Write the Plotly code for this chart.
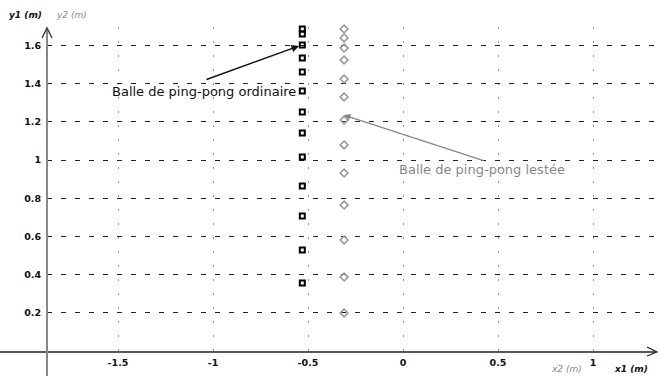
import plotly.graph_objects as go

# --- data ---
x_ordinaire = [-0.53] * 14
y_ordinaire = [1.712, 1.686, 1.660, 1.602, 1.534, 1.461, 1.361, 1.251,
               1.141, 1.016, 0.864, 0.707, 0.529, 0.356]
x_lestee = [-0.31] * 14
y_lestee = [1.707, 1.686, 1.639, 1.586, 1.524, 1.424, 1.330, 1.209,
            1.079, 0.932, 0.764, 0.581, 0.387, 0.199]
x_ticks = [-1.5, -1, -0.5, 0, 0.5, 1]
x_ticklabels = ["-1.5", "-1", "-0.5", "0", "0.5", "1"]
y_ticks = [0.2, 0.4, 0.6, 0.8, 1, 1.2, 1.4, 1.6]
y_ticklabels = ["0.2", "0.4", "0.6", "0.8", "1", "1.2", "1.4", "1.6"]
label_ordinaire = "Balle de ping-pong ordinaire"
label_lestee = "Balle de ping-pong lestée"

W, H = 660, 376
L, R, T, B = 47, 5, 27, 25
PW, PH = W - L - R, H - T - B


def px(xp):
    return (xp - L) / PW


def py(yp):
    return (H - B - yp) / PH


FONT = "DejaVu Sans"

fig = go.Figure()
fig.add_trace(go.Scatter(
    x=x_ordinaire, y=y_ordinaire, mode="markers", cliponaxis=False,
    marker=dict(symbol="square-open", size=5, color="black",
                line=dict(width=2, color="black")),
    showlegend=False))
fig.add_trace(go.Scatter(
    x=x_lestee, y=y_lestee, mode="markers", cliponaxis=False,
    marker=dict(symbol="diamond-open", size=6, color="#999999",
                line=dict(width=1.6, color="#999999")),
    showlegend=False))

fig.update_layout(
    width=W, height=H,
    margin=dict(l=L, r=R, t=T, b=B),
    paper_bgcolor="white", plot_bgcolor="white",
    font=dict(family=FONT, size=9, color="black"),
)
fig.update_xaxes(
    range=[(L - 403) / 190, (W - R - 403) / 190],
    tickmode="array", tickvals=x_ticks, ticktext=x_ticklabels,
    tickfont=dict(family=FONT, size=9.5, color="#111", weight="bold"),
    showgrid=True, gridcolor="#999999", gridwidth=1.2, griddash="2px,12px",
    zeroline=False, showline=False, ticks="", ticklabelstandoff=4,
)
fig.update_yaxes(
    range=[0, PH / 191],
    tickmode="array", tickvals=y_ticks, ticktext=y_ticklabels,
    tickfont=dict(family=FONT, size=9.5, color="#111", weight="bold"),
    showgrid=True, gridcolor="#222222", gridwidth=1.3, griddash="5px,9px",
    zeroline=False, showline=False, ticks="", ticklabelstandoff=5,
)

# axis lines with arrows
fig.add_shape(type="line", xref="paper", yref="paper",
              x0=px(0), x1=px(655), y0=py(352), y1=py(352),
              line=dict(color="#222222", width=1.5))
fig.add_shape(type="path", xref="paper", yref="paper",
              path=f"M {px(647)},{py(347)} L {px(657)},{py(352)} L {px(647)},{py(356)}",
              line=dict(color="#222222", width=1.2))
fig.add_shape(type="line", xref="paper", yref="paper",
              x0=px(47), x1=px(47), y0=py(376), y1=py(28),
              line=dict(color="#888888", width=2))
fig.add_shape(type="path", xref="paper", yref="paper",
              path=f"M {px(42)},{py(38)} L {px(47)},{py(28)} L {px(52)},{py(38)}",
              line=dict(color="#444444", width=1.5))

# axis titles
common = dict(xref="paper", yref="paper", showarrow=False,
              xanchor="center", yanchor="middle")
fig.add_annotation(x=px(25), y=py(15), text="<b><i>y1 (m)</i></b>",
                   font=dict(family=FONT, size=9, color="#111"), **common)
fig.add_annotation(x=px(71), y=py(15), text="<i>y2 (m)</i>",
                   font=dict(family=FONT, size=9, color="#888888"), **common)
fig.add_annotation(x=px(566), y=py(369), text="<i>x2 (m)</i>",
                   font=dict(family=FONT, size=9, color="#888888"), **common)
fig.add_annotation(x=px(631), y=py(369), text="<b><i>x1 (m)</i></b>",
                   font=dict(family=FONT, size=9, color="#111"), **common)

# series labels with arrows
fig.add_annotation(x=(299 - 403) / 190, y=(351 - 46) / 191, text="",
                   showarrow=True, ax=-94, ay=34, arrowhead=2, arrowsize=1,
                   arrowwidth=1.5, arrowcolor="#111")
fig.add_annotation(x=(204 - 403) / 190, y=(351 - 91) / 191, text=label_ordinaire,
                   showarrow=False, xanchor="center", yanchor="middle",
                   font=dict(family=FONT, size=13, color="#111"))
fig.add_annotation(x=(344 - 403) / 190, y=(351 - 115) / 191, text="",
                   showarrow=True, ax=141, ay=46, arrowhead=2, arrowsize=1,
                   arrowwidth=1.3, arrowcolor="#888888")
fig.add_annotation(x=(482 - 403) / 190, y=(351 - 169) / 191, text=label_lestee,
                   showarrow=False, xanchor="center", yanchor="middle",
                   font=dict(family=FONT, size=13, color="#888888"))

fig.write_html("out.html",
               config={"displayModeBar": False},
               post_script="document.body.style.margin='0px';")
